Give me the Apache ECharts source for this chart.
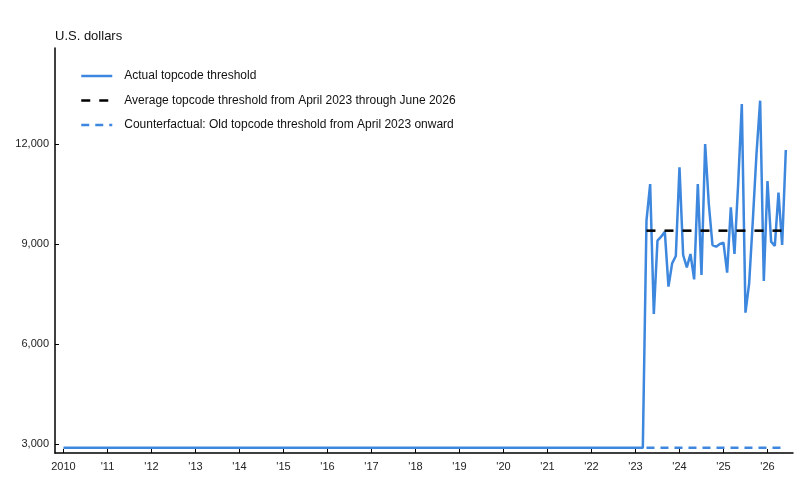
<!DOCTYPE html>
<html>
<head>
<meta charset="utf-8">
<script src="https://cdn.jsdelivr.net/npm/echarts@6/dist/echarts.min.js"></script>
<style>
  html, body { margin: 0; padding: 0; background: #fff; }
  #chart { width: 800px; height: 500px; }
</style>
</head>
<body>
<div id="chart"></div>
<script>
// old weekly topcode, Jan 2010 - Mar 2023
var oldThreshold = 2884;
var flatMonths = 159;
// monthly topcode, Apr 2023 - Jun 2026
var newValues = [9700, 10800, 6900, 9100, 9220, 9370, 7720, 8420, 8640,
  11300, 8670, 8300, 8700, 7940, 10800, 8070, 12000, 10200, 8970, 8920, 9000, 9040, 8140, 10100,
  8700, 10800, 13200, 6940, 7820, 9700, 11700, 13300, 7890, 10890, 9070, 8940,
  10540, 8970, 11820];
var avgThreshold = 9400;
var yearTicks = [2010, 2011, 2012, 2013, 2014, 2015, 2016, 2017, 2018, 2019, 2020, 2021, 2022, 2023, 2024, 2025, 2026];
var yTicks = [3000, 6000, 9000, 12000];

var blue = '#3d87de';
var font = 'Liberation Sans, Arial, sans-serif';

var actual = [];
for (var i = 0; i < flatMonths; i++) actual.push([2010 + i / 12, oldThreshold]);
for (var j = 0; j < newValues.length; j++) actual.push([2010 + (flatMonths + j) / 12, newValues[j]]);

var startNew = 2010 + flatMonths / 12;
var endNew = 2010 + (flatMonths + newValues.length - 1) / 12;

var chart = echarts.init(document.getElementById('chart'));
chart.setOption({
  animation: false,
  textStyle: { fontFamily: font },
  grid: { left: 55, right: 7, top: 48, bottom: 47 },
  legend: {
    orient: 'vertical',
    left: 75, top: 65,
    itemWidth: 31, itemHeight: 14, itemGap: 12.5,
    itemStyle: { opacity: 0 },
    lineStyle: { width: 2.5 },
    textStyle: { fontSize: 12, color: '#111', fontFamily: font, padding: [0, 0, 0, 7] },
    data: ['Actual topcode threshold',
      'Average topcode threshold from April 2023 through June 2026',
      'Counterfactual: Old topcode threshold from April 2023 onward']
  },
  xAxis: {
    type: 'value',
    min: 2009.807, max: 2026.58,
    axisLine: { lineStyle: { color: '#000', width: 1.5 } },
    axisTick: { inside: true, length: 4, customValues: yearTicks, lineStyle: { color: '#000' } },
    axisLabel: {
      customValues: yearTicks, margin: 8, fontSize: 11, color: '#222',
      formatter: function (v) { return v === 2010 ? '2010' : "'" + String(v).slice(2); }
    },
    splitLine: { show: false }
  },
  yAxis: {
    type: 'value',
    min: 2730, max: 14880,
    name: 'U.S. dollars',
    nameLocation: 'end',
    nameGap: 5,
    nameTextStyle: { align: 'left', fontSize: 13, color: '#111', fontFamily: font },
    axisLine: { show: true, lineStyle: { color: '#000', width: 1.5 } },
    axisTick: { show: true, inside: true, length: 4, customValues: yTicks, lineStyle: { color: '#000' } },
    axisLabel: {
      customValues: yTicks, margin: 6, fontSize: 11, color: '#222',
      formatter: function (v) { return v.toLocaleString('en-US'); }
    },
    splitLine: { show: false }
  },
  series: [
    {
      name: 'Actual topcode threshold',
      type: 'line', symbol: 'none',
      data: actual,
      lineStyle: { color: blue, width: 2.5 },
      itemStyle: { color: blue },
      z: 3
    },
    {
      name: 'Average topcode threshold from April 2023 through June 2026',
      type: 'line', symbol: 'none',
      data: [[startNew, avgThreshold], [endNew, avgThreshold]],
      lineStyle: { color: '#000', width: 2.5, type: [9, 9] },
      itemStyle: { color: '#000' },
      z: 4
    },
    {
      name: 'Counterfactual: Old topcode threshold from April 2023 onward',
      type: 'line', symbol: 'none',
      data: [[startNew, oldThreshold], [endNew, oldThreshold]],
      lineStyle: { color: blue, width: 2.5, type: [8, 6] },
      itemStyle: { color: blue },
      z: 2
    }
  ]
});
</script>
</body>
</html>
